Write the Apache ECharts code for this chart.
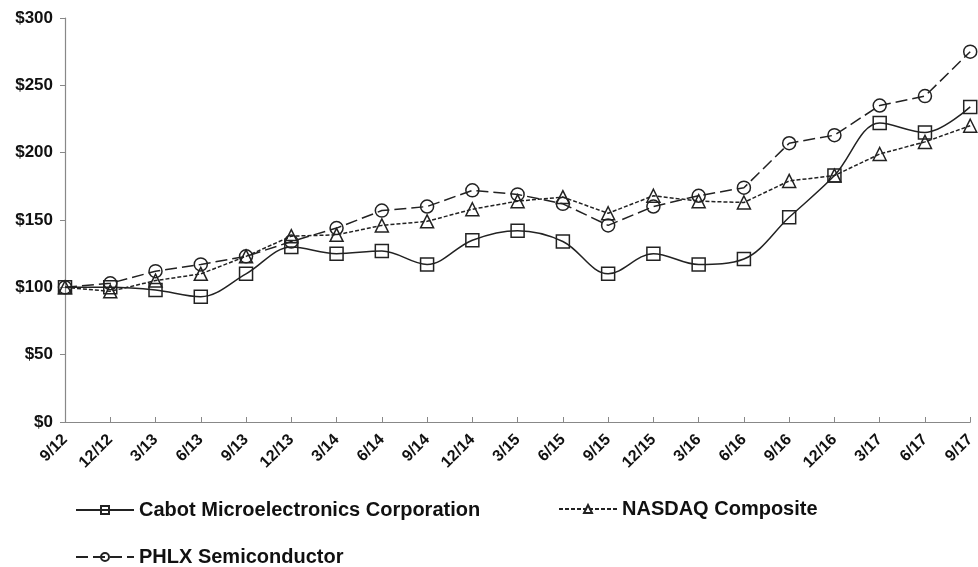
<!DOCTYPE html>
<html>
<head>
<meta charset="utf-8">
<script src="https://cdn.jsdelivr.net/npm/echarts@6/dist/echarts.min.js"></script>
<style>
html,body{margin:0;padding:0;background:#fff;}
#c{width:978px;height:567px;}
</style>
</head>
<body>
<div id="c"></div>
<script>
var categories = ['9/12','12/12','3/13','6/13','9/13','12/13','3/14','6/14','9/14','12/14','3/15','6/15','9/15','12/15','3/16','6/16','9/16','12/16','3/17','6/17','9/17'];
var cabot  = [100, 100, 98, 93, 110, 130, 125, 127, 117, 135, 142, 134, 110, 125, 117, 121, 152, 183, 222, 215, 234];
var nasdaq = [100, 97, 105, 110, 123, 138, 139, 146, 149, 158, 164, 167, 155, 168, 164, 163, 179, 183, 199, 208, 220];
var phlx   = [100, 103, 112, 117, 123, 134, 144, 157, 160, 172, 169, 162, 146, 160, 168, 174, 207, 213, 235, 242, 275];
var yTicks = [0, 50, 100, 150, 200, 250, 300];
var names = ['Cabot Microelectronics Corporation', 'NASDAQ Composite', 'PHLX Semiconductor'];

var ink = '#222';
var font = 'Liberation Sans, Arial, sans-serif';
function legendAt(name, left, top) {
  return {
    data: [name], left: left, top: top, orient: 'horizontal', padding: 0,
    itemWidth: 58, itemHeight: 10, itemGap: 6, selectedMode: false,
    textStyle: {fontFamily: font, fontWeight: 'bold', fontSize: 20, color: '#111'}
  };
}
function mkSeries(name, data, symbol, dash, smooth) {
  return {
    name: name, type: 'line', data: data, smooth: smooth,
    symbol: symbol, symbolSize: 13, showAllSymbol: true,
    lineStyle: {color: ink, width: 1.5, type: dash},
    itemStyle: {color: 'rgba(255,255,255,0)', borderColor: ink, borderWidth: 1.5},
    emphasis: {disabled: true}, animation: false
  };
}
var chart = echarts.init(document.getElementById('c'), null, {renderer: 'canvas'});
chart.setOption({
  backgroundColor: '#fff',
  animation: false,
  grid: {left: 65, right: 5, top: 18, bottom: 145, containLabel: false},
  legend: [
    legendAt(names[0], 75, 500),
    legendAt(names[1], 558, 499),
    legendAt(names[2], 75, 547)
  ],
  xAxis: {
    type: 'category', data: categories, boundaryGap: false,
    axisLine: {lineStyle: {color: '#888', width: 1.2}},
    axisTick: {inside: true, length: 5, alignWithLabel: true, lineStyle: {color: '#888'}},
    axisLabel: {rotate: 45, interval: 0, margin: 15, fontFamily: font, fontWeight: 'bold', fontSize: 16, color: '#111'},
    splitLine: {show: false}
  },
  yAxis: {
    type: 'value', min: yTicks[0], max: yTicks[yTicks.length-1], interval: 50,
    axisLine: {show: true, lineStyle: {color: '#888', width: 1.2}},
    axisTick: {show: true, length: 5, lineStyle: {color: '#888'}},
    axisLabel: {margin: 12, fontFamily: font, fontWeight: 'bold', fontSize: 17, color: '#111',
      formatter: function (v) { return '$' + v; }},
    splitLine: {show: false}
  },
  series: [
    mkSeries(names[0], cabot, 'rect', 'solid', 0.35),
    mkSeries(names[1], nasdaq, 'triangle', [4, 2], false),
    mkSeries(names[2], phlx, 'circle', [12, 5], false)
  ]
});
</script>
</body>
</html>
